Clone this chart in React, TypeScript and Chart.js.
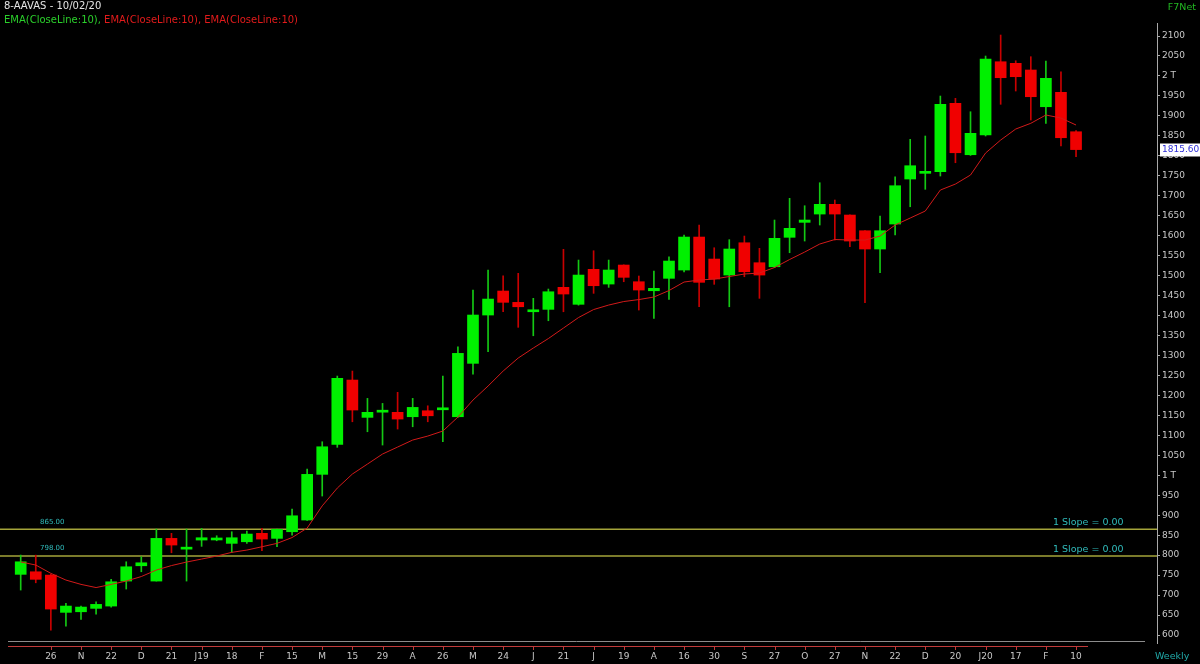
import React, { useEffect, useRef } from 'react';
import { Chart, registerables } from 'chart.js';

Chart.register(...registerables);

const TITLE = '8-AAVAS - 10/02/20';
const LEGEND_TEXTS = ['EMA(CloseLine:10), ', 'EMA(CloseLine:10), ', 'EMA(CloseLine:10)'];
const LEGEND_COLORS = ['#2bd02b', '#e21b1b', '#e21b1b'];
const BRAND = 'F7Net';
const PERIOD = 'Weekly';

// tick labels, one every second weekly candle (indices 2, 4, ... 70)
const X_TICK_LABELS = ['26', 'N', '22', 'D', '21', 'J19', '18', 'F', '15', 'M', '15', '29', 'A', '26', 'M', '24', 'J', '21', 'J', '19', 'A', '16', '30', 'S', '27', 'O', '27', 'N', '22', 'D', '20', 'J20', '17', 'F', '10'];

const OPEN = [751.9, 758.4, 750.1, 656.7, 658.2, 666.7, 672.5, 735.1, 773.4, 735.1, 842, 815, 837.8, 838, 829.5, 833.5, 854.6, 842, 858.6, 887.9, 1002.3, 1077.4, 1238.5, 1145, 1158, 1157.6, 1146.6, 1161.6, 1164, 1146.6, 1280.3, 1401.3, 1461.4, 1433, 1409.5, 1415.5, 1470.6, 1428.1, 1515.7, 1478.9, 1526.5, 1484.7, 1462.1, 1493.2, 1514, 1596.6, 1541.5, 1501.4, 1582.3, 1532.3, 1522.2, 1595.9, 1633.4, 1654.2, 1678.5, 1651.7, 1612.4, 1566.6, 1629.2, 1741.9, 1756.1, 1760.2, 1931.5, 1802.7, 1852.1, 2035.6, 2031.6, 2014.9, 1922.9, 1959, 1860.3];
const HIGH = [800.2, 800, 752, 679.2, 672.5, 683.3, 739.4, 783.4, 796, 865.3, 854.6, 865.3, 867, 848.6, 858.6, 860.3, 867, 865, 915.4, 1015.6, 1084, 1248.5, 1261, 1192.6, 1180, 1207.7, 1192.6, 1174, 1248.5, 1321.9, 1463.9, 1514, 1499.7, 1505.7, 1443.1, 1466.4, 1565.8, 1539, 1562.3, 1539, 1527, 1499, 1511.5, 1547.3, 1601.6, 1626.7, 1569.8, 1590, 1599.1, 1568.3, 1639.2, 1693.5, 1675, 1732.6, 1689.3, 1652, 1613, 1649.2, 1747.6, 1841.3, 1849.6, 1949.7, 1944, 1910.4, 2049.9, 2102.5, 2038, 2048.2, 2037.4, 2010.6, 1863];
const LOW = [712.6, 730.8, 612.4, 622.4, 639.2, 652.5, 670, 715.1, 758.4, 735, 806, 735.1, 822, 836, 807, 829.5, 811, 821, 850.3, 887, 948, 1070, 1134, 1109, 1075.7, 1115.8, 1121.5, 1134, 1084, 1145, 1253.5, 1309.4, 1409.5, 1370.5, 1349.4, 1387, 1409.5, 1426, 1455.6, 1470.6, 1484.7, 1413.8, 1393, 1440.6, 1509, 1422, 1478.2, 1422, 1497.2, 1443.1, 1520, 1557.3, 1586.6, 1626.7, 1589.1, 1572.3, 1432.1, 1507.2, 1601.6, 1672.5, 1716.1, 1749.4, 1782.7, 1801, 1849.6, 1929, 1962.3, 1889.6, 1881.4, 1824.5, 1797.7];
const CLOSE = [783.4, 739.4, 665, 672.5, 670, 676.7, 733.3, 770.9, 780.9, 842, 825.3, 817, 843.6, 843, 843.6, 852.8, 840.3, 864.6, 898.6, 1002.3, 1071.4, 1242.7, 1163.4, 1157.6, 1161, 1140.8, 1170, 1149, 1167, 1305.3, 1401.3, 1441.3, 1433.1, 1422, 1413.8, 1459.6, 1453.9, 1501.4, 1474.7, 1514, 1495.7, 1463.9, 1468.1, 1536.5, 1596.6, 1483.2, 1491.4, 1566.6, 1509.7, 1501.4, 1593.4, 1618.4, 1639.2, 1678.5, 1654.2, 1586.6, 1566.6, 1612.4, 1725.1, 1775.2, 1760.2, 1929, 1807.7, 1856.3, 2042.4, 1995.6, 1998.1, 1948, 1994.1, 1845.3, 1815.6];
const EMA10 = [783, 775.2, 754.4, 737.6, 726.8, 718.8, 726.8, 735.1, 746.4, 762.7, 773.9, 782.7, 790.2, 797.7, 807, 812.7, 821, 829.5, 844, 867.8, 923.4, 968, 1003.1, 1028.1, 1053.2, 1070.7, 1088.2, 1098.2, 1110.8, 1145.8, 1188.4, 1223.5, 1261, 1293.6, 1318.6, 1342.4, 1368.7, 1395, 1415, 1426.3, 1435.1, 1440, 1446.4, 1462.6, 1483.9, 1488.9, 1491.4, 1497.7, 1504, 1506.5, 1520.2, 1540.3, 1559, 1579.1, 1590.4, 1589.1, 1589.1, 1599.1, 1626.7, 1644.2, 1661.7, 1714.3, 1729.3, 1751.9, 1807, 1839.5, 1867.1, 1881.4, 1902.2, 1894.6, 1877.1];

const LEVELS = [865, 798];
const LEVEL_NOTE = '1 Slope = 0.00';

const X_MIN = -1.373;
const X_MAX = 75.37;
const Y_MIN = 580;
const Y_MAX = 2132.6;

const FONT = '"DejaVu Sans", Verdana, sans-serif';
const UP_BODY = '#00f000';
const DOWN_BODY = '#f00000';
const UP_WICK = '#14c814';
const DOWN_WICK = '#c80000';

const decorPlugin = {
  id: 'decor',
  beforeDraw(chart: any) {
    const ctx = chart.ctx;
    ctx.save();
    ctx.fillStyle = '#000000';
    ctx.fillRect(0, 0, chart.width, chart.height);
    ctx.restore();
  },
  afterDraw(chart: any) {
    const ctx = chart.ctx;
    const xs = chart.scales.x;
    const ys = chart.scales.y;
    ctx.save();
    ctx.textBaseline = 'middle';
    // title
    ctx.font = `10px ${FONT}`;
    ctx.fillStyle = '#e4e4e4';
    ctx.textAlign = 'left';
    ctx.fillText(TITLE, 4, 6.5);
    // legend
    let lx = 4;
    LEGEND_TEXTS.forEach((t, i) => {
      ctx.fillStyle = LEGEND_COLORS[i];
      ctx.fillText(t, lx, 20.5);
      lx += ctx.measureText(t).width;
    });
    // brand
    ctx.font = `9.5px ${FONT}`;
    ctx.fillStyle = '#22b822';
    ctx.textAlign = 'right';
    ctx.fillText(BRAND, 1196, 7.5);
    // period
    ctx.fillStyle = '#20a8a8';
    ctx.textAlign = 'left';
    ctx.fillText(PERIOD, 1155, 657);

    // level labels
    LEVELS.forEach((lv) => {
      const yy = ys.getPixelForValue(lv);
      ctx.fillStyle = '#30bcbc';
      ctx.font = `7px ${FONT}`;
      ctx.textAlign = 'left';
      ctx.fillText(lv.toFixed(2), 40, yy - 7.5);
      ctx.font = `9.5px ${FONT}`;
      ctx.fillText(LEVEL_NOTE, 1053, yy - 6.5);
    });

    // bottom time-axis lines
    ctx.lineWidth = 1;
    ctx.strokeStyle = '#8c8c8c';
    ctx.beginPath();
    ctx.moveTo(8, 641.5);
    ctx.lineTo(1145, 641.5);
    ctx.stroke();
    ctx.strokeStyle = '#c03a3a';
    ctx.beginPath();
    ctx.moveTo(8, 646.5);
    ctx.lineTo(1088, 646.5);
    xs.ticks.forEach((t: any) => {
      const px = Math.round(xs.getPixelForValue(t.value)) + 0.5;
      ctx.moveTo(px, 646.5);
      ctx.lineTo(px, 650);
    });
    ctx.stroke();

    // last price box
    const last = CLOSE[CLOSE.length - 1];
    const py = ys.getPixelForValue(last);
    ctx.fillStyle = '#ffffff';
    ctx.fillRect(1160, Math.round(py) - 6.5, 40, 13);
    ctx.fillStyle = '#2e2ed6';
    ctx.font = `9px ${FONT}`;
    ctx.textAlign = 'left';
    ctx.fillText(last.toFixed(2), 1162, py);
    ctx.restore();
  },
};

export default function App() {
  const ref = useRef<HTMLCanvasElement>(null);
  useEffect(() => {
    if (!ref.current) return;
    const idx = OPEN.map((_, i) => i);
    const up = idx.map((i) => CLOSE[i] >= OPEN[i]);
    const tickIdx = X_TICK_LABELS.map((_, k) => 2 * (k + 1));
    const tickMap: Record<number, string> = {};
    tickIdx.forEach((v, k) => (tickMap[v] = X_TICK_LABELS[k]));

    const chart = new Chart(ref.current, {
      type: 'bar',
      data: {
        datasets: [
          {
            type: 'line',
            label: 'EMA',
            data: idx.map((i) => ({ x: i, y: EMA10[i] })),
            borderColor: '#d21a1a',
            borderWidth: 1,
            pointRadius: 0,
            tension: 0,
            order: 0,
          } as any,
          {
            type: 'bar',
            label: 'body',
            data: idx.map((i) => ({ x: i, y: [OPEN[i], CLOSE[i]] })),
            backgroundColor: up.map((u) => (u ? UP_BODY : DOWN_BODY)),
            barThickness: 11,
            minBarLength: 2,
            grouped: false,
            borderWidth: 0,
            order: 1,
          } as any,
          {
            type: 'bar',
            label: 'wick',
            data: idx.map((i) => ({ x: i, y: [LOW[i], HIGH[i]] })),
            backgroundColor: up.map((u) => (u ? UP_WICK : DOWN_WICK)),
            barThickness: 1,
            grouped: false,
            borderWidth: 0,
            order: 2,
          } as any,
          ...LEVELS.map(
            (lv) =>
              ({
                type: 'line',
                label: 'level ' + lv,
                data: [
                  { x: X_MIN, y: lv },
                  { x: X_MAX, y: lv },
                ],
                borderColor: '#a4a43a',
                borderWidth: 1.6,
                pointRadius: 0,
                order: 3,
              } as any)
          ),
        ],
      },
      options: {
        responsive: false,
        animation: false,
        devicePixelRatio: 1,
        layout: { padding: { top: 23, left: 0, right: 0, bottom: 0 } },
        plugins: { legend: { display: false }, tooltip: { enabled: false } },
        scales: {
          x: {
            type: 'linear',
            position: 'bottom',
            min: X_MIN,
            max: X_MAX,
            offset: false,
            grid: { display: false, drawTicks: false, tickLength: 0 },
            border: { display: false },
            afterBuildTicks: (scale: any) => {
              scale.ticks = tickIdx.map((v) => ({ value: v }));
            },
            afterFit: (scale: any) => {
              scale.height = 21;
            },
            ticks: {
              autoSkip: false,
              maxRotation: 0,
              minRotation: 0,
              padding: 8,
              color: '#c8c8c8',
              font: { family: FONT, size: 9 },
              callback: (v: any) => tickMap[v as number] ?? '',
            },
          },
          y: {
            type: 'linear',
            position: 'right',
            min: Y_MIN,
            max: Y_MAX,
            grid: { drawOnChartArea: false, color: '#a8a8a8', tickLength: 3, drawTicks: true },
            border: { display: true, color: '#a8a8a8' },
            afterFit: (scale: any) => {
              scale.width = 43;
            },
            ticks: {
              stepSize: 50,
              includeBounds: false,
              padding: 2,
              color: '#c8c8c8',
              font: { family: FONT, size: 9 },
              callback: (v: any) => (v === 1000 ? '1 T' : v === 2000 ? '2 T' : String(v)),
            },
          },
        },
      },
      plugins: [decorPlugin],
    } as any);
    return () => chart.destroy();
  }, []);

  return (
    <div style={{ position: 'fixed', left: 0, top: 0, width: 1200, height: 664, background: '#000' }}>
      <canvas ref={ref} width={1200} height={664} style={{ display: 'block' }} />
    </div>
  );
}
